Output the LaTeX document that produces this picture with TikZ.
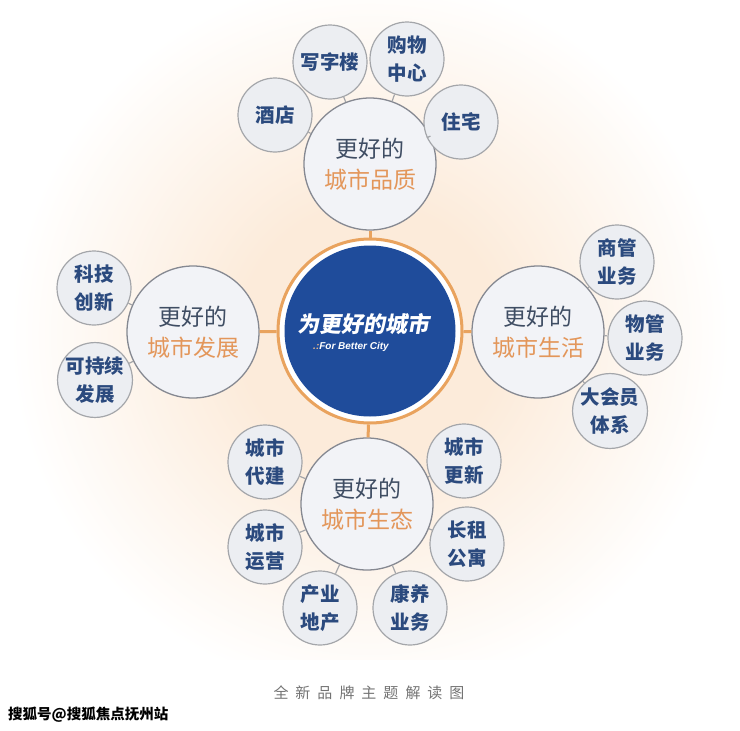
\documentclass[tikz,border=0pt]{standalone}
\usepackage{fontspec}
\setmainfont{Noto Sans CJK SC}
\newfontfamily\latinf{Liberation Sans}
\usetikzlibrary{shapes.geometric}
\definecolor{navy}{HTML}{2B4A7E}
\definecolor{orng}{HTML}{E3965A}
\definecolor{sattxt}{HTML}{3F4D63}
\definecolor{cblue}{HTML}{1F4C9B}
\definecolor{ring}{HTML}{E9A35E}
\definecolor{smfill}{HTML}{ECEEF2}
\definecolor{smline}{HTML}{A4A6AA}
\definecolor{satfill}{HTML}{F2F3F7}
\definecolor{satline}{HTML}{858891}
\definecolor{glowc}{HTML}{FCEBDA}
\pgfdeclareradialshading{glow}{\pgfpoint{0bp}{0bp}}{color(0bp)=(glowc); color(9bp)=(glowc); color(25bp)=(white); color(50bp)=(white)}
\tikzset{
  small/.style={circle, draw=smline, line width=1.2pt, fill=smfill, minimum size=74pt, inner sep=0pt,
    align=center, font=\fontsize{19.5}{28}\selectfont\bfseries, text=navy},
  sat/.style={circle, draw=satline, line width=1.3pt, fill=satfill, minimum size=132pt, inner sep=0pt,
    align=center, font=\fontsize{23}{31}\selectfont},
  thin/.style={draw=smline, line width=1.2pt},
  thick/.style={draw=ring, line width=3pt},
}
\newcommand{\sattext}[1]{{\color{sattxt}更好的}\\{\color{orng}#1}}
\begin{document}
\begin{tikzpicture}[x=1pt,y=-1pt]
\useasboundingbox (0,0) rectangle (740,731);
\fill[white] (0,0) rectangle (740,731);
\shade[shading=glow] (370,335) circle (360);
\fill[white] (0,660) rectangle (740,731);
\node[sat] (q) at (370,164) {\sattext{城市品质}};
\node[sat] (d) at (193,332) {\sattext{城市发展}};
\node[sat] (l) at (538,332) {\sattext{城市生活}};
\node[sat] (e) at (367,504) {\sattext{城市生态}};
% center
\node[circle, draw=ring, line width=3pt, fill=white, minimum size=184pt, inner sep=0pt] (ring) at (370,331) {};
\node[circle, fill=cblue, minimum size=171pt, inner sep=0pt] (c) at (370,331) {};
\begin{scope}[shift={(365,324)}, xslant=0.18, transform shape]
\node[text=white, font=\fontsize{22}{22}\selectfont\bfseries, inner sep=0pt] (ct) at (0,0) {为更好的城市};
\end{scope}
\begin{scope}[shift={(351,347)}, transform shape]
\node[text=white, font=\latinf\fontsize{10}{10}\selectfont\bfseries\itshape, inner sep=0pt] (cs) at (0,0) {{\color{ring!70!white}.:}For Better City};
\end{scope}
\draw[thick] (ring) -- (q);
\draw[thick] (ring) -- (d);
\draw[thick] (ring) -- (l);
\draw[thick] (ring) -- (e);
% small circles: quality
\node[small] (s1) at (330,62) {写字楼};
\node[small] (s2) at (407,59) {购物\\中心};
\node[small] (s3) at (275,115) {酒店};
\node[small] (s4) at (461,122) {住宅};
% development
\node[small] (s5) at (94,288) {科技\\创新};
\node[small] (s6) at (95,380) {可持续\\发展};
% life
\node[small] (s7) at (617,262) {商管\\业务};
\node[small] (s8) at (645,338) {物管\\业务};
\node[small] (s9) at (610,411) {大会员\\体系};
% ecology
\node[small] (s10) at (265,462) {城市\\代建};
\node[small] (s11) at (464,461) {城市\\更新};
\node[small] (s12) at (265,547) {城市\\运营};
\node[small] (s13) at (467,544) {长租\\公寓};
\node[small] (s14) at (320,608) {产业\\地产};
\node[small] (s15) at (410,608) {康养\\业务};
\foreach \a/\b in {s1/q,s2/q,s3/q,s4/q,s5/d,s6/d,s7/l,s8/l,s9/l,s10/e,s11/e,s12/e,s13/e,s14/e,s15/e}
  \draw[thin] (\a) -- (\b);
% caption
\node[text=black!55, font=\fontsize{15}{15}\selectfont] (cap) at (369,693) {全\hspace{7pt}新\hspace{7pt}品\hspace{7pt}牌\hspace{7pt}主\hspace{7pt}题\hspace{7pt}解\hspace{7pt}读\hspace{7pt}图};
\node[anchor=west, text=black, font=\fontsize{14.5}{15}\selectfont\bfseries, inner sep=0pt] (wm) at (8,715) {搜狐号@搜狐焦点抚州站};
\end{tikzpicture}
\end{document}
